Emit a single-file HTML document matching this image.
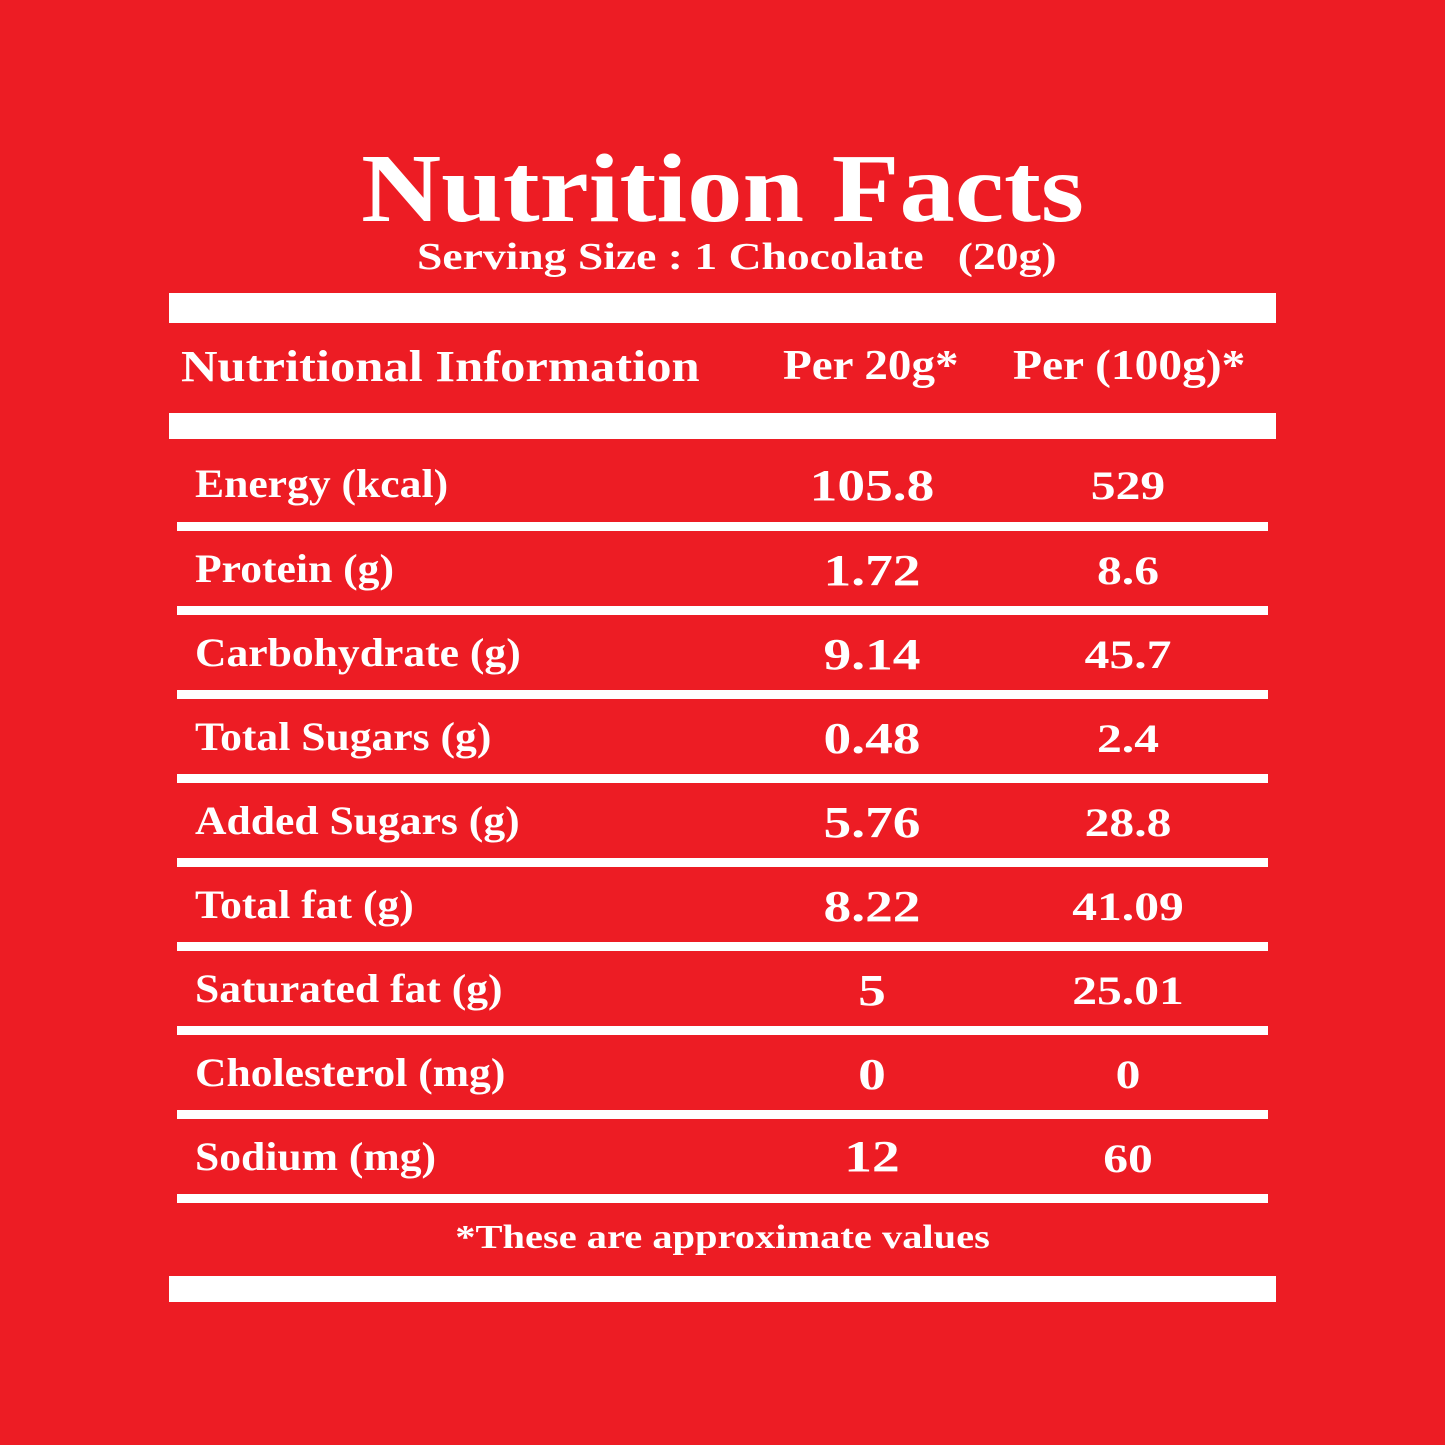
<!DOCTYPE html>
<html><head><meta charset="utf-8"><style>
html,body{margin:0;padding:0}
body{width:1445px;height:1445px;background:#ED1C24;position:relative;overflow:hidden;font-family:"Liberation Serif",serif;font-weight:bold;color:#fff}
.t{position:absolute;white-space:nowrap;line-height:1}
.bar{position:absolute;background:#fff}
.c1{left:195px;transform:scaleX(1.09);transform-origin:left center}
.c2{left:772px;width:200px;text-align:center;transform:scaleX(1.26);transform-origin:center}
.c3{left:1028px;width:200px;text-align:center;transform:scaleX(1.24);transform-origin:center}
.row{font-size:40px}
</style></head><body>
<div class="t" style="left:0;width:1445px;text-align:center;top:140px;font-size:98px;transform:scaleX(1.13);transform-origin:722px center">Nutrition Facts</div>
<div class="t" style="left:417px;top:238px;font-size:38px;transform:scaleX(1.2);transform-origin:left center">Serving Size : 1 Chocolate &nbsp;&nbsp;(20g)</div>
<div class="bar" style="left:169px;top:293px;width:1107px;height:30px"></div>
<div class="t" style="left:181px;top:345px;font-size:44px;transform:scaleX(1.15);transform-origin:left center">Nutritional Information</div>
<div class="t" style="left:783px;top:345px;font-size:42px;transform:scaleX(1.12);transform-origin:left center">Per 20g*</div>
<div class="t" style="left:1013px;top:345px;font-size:42px;transform:scaleX(1.13);transform-origin:left center">Per (100g)*</div>
<div class="bar" style="left:169px;top:413px;width:1107px;height:26px"></div>

<div class="t row c1" style="top:464px">Energy (kcal)</div><div class="t row c2" style="top:464px;font-size:44px">105.8</div><div class="t row c3" style="top:466px">529</div>
<div class="bar" style="left:177px;top:522px;width:1091px;height:9px"></div>
<div class="t row c1" style="top:549px">Protein (g)</div><div class="t row c2" style="top:549px;font-size:44px">1.72</div><div class="t row c3" style="top:551px">8.6</div>
<div class="bar" style="left:177px;top:606px;width:1091px;height:9px"></div>
<div class="t row c1" style="top:633px">Carbohydrate (g)</div><div class="t row c2" style="top:633px;font-size:44px">9.14</div><div class="t row c3" style="top:635px">45.7</div>
<div class="bar" style="left:177px;top:690px;width:1091px;height:9px"></div>
<div class="t row c1" style="top:717px">Total Sugars (g)</div><div class="t row c2" style="top:717px;font-size:44px">0.48</div><div class="t row c3" style="top:719px">2.4</div>
<div class="bar" style="left:177px;top:774px;width:1091px;height:9px"></div>
<div class="t row c1" style="top:801px">Added Sugars (g)</div><div class="t row c2" style="top:801px;font-size:44px">5.76</div><div class="t row c3" style="top:803px">28.8</div>
<div class="bar" style="left:177px;top:858px;width:1091px;height:9px"></div>
<div class="t row c1" style="top:885px">Total fat (g)</div><div class="t row c2" style="top:885px;font-size:44px">8.22</div><div class="t row c3" style="top:887px">41.09</div>
<div class="bar" style="left:177px;top:942px;width:1091px;height:9px"></div>
<div class="t row c1" style="top:969px">Saturated fat (g)</div><div class="t row c2" style="top:969px;font-size:44px">5</div><div class="t row c3" style="top:971px">25.01</div>
<div class="bar" style="left:177px;top:1026px;width:1091px;height:9px"></div>
<div class="t row c1" style="top:1053px">Cholesterol (mg)</div><div class="t row c2" style="top:1053px;font-size:44px">0</div><div class="t row c3" style="top:1055px">0</div>
<div class="bar" style="left:177px;top:1110px;width:1091px;height:9px"></div>
<div class="t row c1" style="top:1137px">Sodium (mg)</div><div class="t row c2" style="top:1135px;font-size:44px">12</div><div class="t row c3" style="top:1139px">60</div>
<div class="bar" style="left:177px;top:1194px;width:1091px;height:9px"></div>
<div class="t" style="left:0;width:1445px;text-align:center;top:1221px;font-size:34px;transform:scaleX(1.19);transform-origin:722px center">*These are approximate values</div>
<div class="bar" style="left:169px;top:1276px;width:1107px;height:26px"></div>
</body></html>
